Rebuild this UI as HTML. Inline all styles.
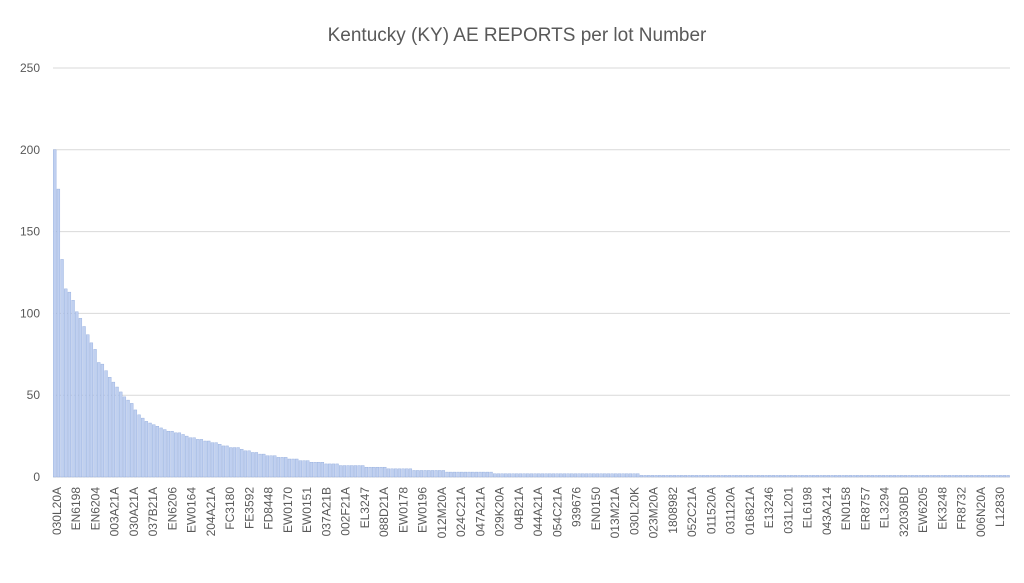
<!DOCTYPE html>
<html><head><meta charset="utf-8"><style>
body{margin:0;background:#fff;width:1024px;height:578px;overflow:hidden;font-family:"Liberation Sans",sans-serif}
</style></head><body>
<svg id="chart" width="1024" height="578" xmlns="http://www.w3.org/2000/svg">
<text x="517" y="41" text-anchor="middle" font-size="19" fill="#595959" font-family="Liberation Sans, sans-serif">Kentucky (KY) AE REPORTS per lot Number</text>
<g id="grid"></g>
<g id="bars"></g>
<g id="yticks"></g>
<g id="xticks"></g>
</svg>
<script>
const yTicks=[0,50,100,150,200,250];
const labels=["030L20A","EN6198","EN6204","003A21A","030A21A","037B21A","EN6206","EW0164","204A21A","FC3180","FE3592","FD8448","EW0170","EW0151","037A21B","002F21A","EL3247","088D21A","EW0178","EW0196","012M20A","024C21A","047A21A","029K20A","04B21A","044A21A","054C21A","939676","EN0150","013M21A","030L20K","023M20A","1808982","052C21A","011520A","031120A","016821A","E13246","031L201","EL6198","043A214","EN0158","ER8757","EL3294","32030BD","EW6205","EK3248","FR8732","006N20A","L12830"];
const values=[200,176,133,115,113,108,101,97,92,87,82,78,70,69,65,61,58,55,52,49,47,45,41,38,36,34,33,32,31,30,29,28,28,27,27,26,25,24,24,23,23,22,22,21,21,20,19,19,18,18,18,17,16,16,15,15,14,14,13,13,13,12,12,12,11,11,11,10,10,10,9,9,9,9,8,8,8,8,7,7,7,7,7,7,7,6,6,6,6,6,6,5,5,5,5,5,5,5,4,4,4,4,4,4,4,4,4,3,3,3,3,3,3,3,3,3,3,3,3,3,2,2,2,2,2,2,2,2,2,2,2,2,2,2,2,2,2,2,2,2,2,2,2,2,2,2,2,2,2,2,2,2,2,2,2,2,2,2,2,2,1,1,1,1,1,1,1,1,1,1,1,1,1,1,1,1,1,1,1,1,1,1,1,1,1,1,1,1,1,1,1,1,1,1,1,1,1,1,1,1,1,1,1,1,1,1,1,1,1,1,1,1,1,1,1,1,1,1,1,1,1,1,1,1,1,1,1,1,1,1,1,1,1,1,1,1,1,1,1,1,1,1,1,1,1,1,1,1,1,1,1,1,1,1,1,1,1,1,1,1,1];
const NS="http://www.w3.org/2000/svg";
const X0=53,X1=1010,Y0=477,Y250=68;
function yPos(v){return Y0-(v/250)*(Y0-Y250);}
const pitch=(X1-X0)/values.length;
function xPos(i){return X0+i*pitch;}
function labelX(k){return 57+k*((1000-57)/(labels.length-1));}
const grid=document.getElementById('grid'),yt=document.getElementById('yticks');
yTicks.forEach(t=>{
 const l=document.createElementNS(NS,'line');
 
 
 l.setAttribute('x1',X0);l.setAttribute('x2',X1);l.setAttribute('y1',yPos(t));l.setAttribute('y2',yPos(t));
 l.setAttribute('stroke','#d9d9d9');l.setAttribute('stroke-width','1');grid.appendChild(l);
 const tx=document.createElementNS(NS,'text');
 
 
 tx.setAttribute('x',40);tx.setAttribute('y',yPos(t)+4);tx.setAttribute('text-anchor','end');
 tx.setAttribute('font-size','12');tx.setAttribute('fill','#595959');tx.textContent=t;yt.appendChild(tx);
});
const bars=document.getElementById('bars');
values.forEach((v,i)=>{
 const r=document.createElementNS(NS,'rect');
 
 
 r.setAttribute('x',xPos(i)+0.3);r.setAttribute('width',pitch-0.8);
 r.setAttribute('y',yPos(v));r.setAttribute('height',Y0-yPos(v));
 r.setAttribute('fill','#c0d0f0');r.setAttribute('stroke','#8faadc');r.setAttribute('stroke-width','0.4');
 bars.appendChild(r);
});
const xt=document.getElementById('xticks');
labels.forEach((s,k)=>{
 const cx=labelX(k);
 const tx=document.createElementNS(NS,'text');
 
 
 tx.setAttribute('transform','translate('+(cx+4)+',487) rotate(-90)');
 tx.setAttribute('text-anchor','end');tx.setAttribute('font-size','12');tx.setAttribute('fill','#595959');
 tx.textContent=s;xt.appendChild(tx);
});
</script>
</body></html>
